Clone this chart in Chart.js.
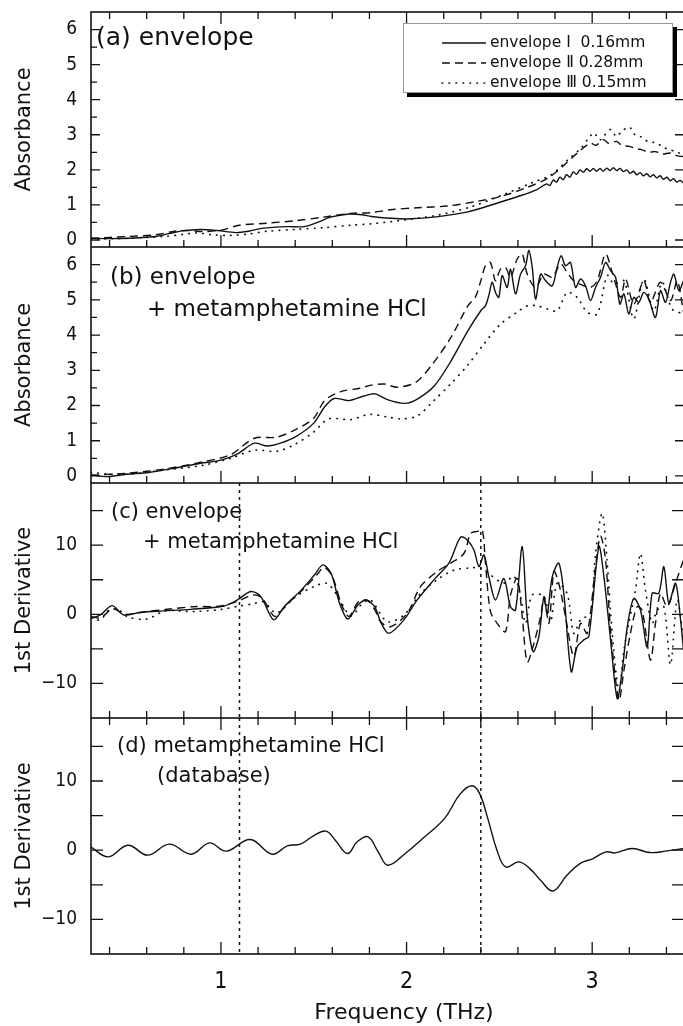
<!DOCTYPE html>
<html>
<head>
<meta charset="utf-8">
<script src="https://cdn.jsdelivr.net/npm/chart.js@4.4.1/dist/chart.umd.min.js"></script>
<style>
  html, body { margin: 0; padding: 0; background: #fff; overflow: hidden; }
  #wrap { position: relative; width: 683px; height: 1026px; overflow: hidden; }
  canvas { position: absolute; left: 0; }
</style>
</head>
<body>
<div id="wrap">
  <canvas id="panelA" width="686" height="247" style="top:0px"></canvas>
  <canvas id="panelB" width="686" height="236" style="top:247px"></canvas>
  <canvas id="panelC" width="686" height="235" style="top:483px"></canvas>
  <canvas id="panelD" width="686" height="308" style="top:718px"></canvas>
</div>
<script>
// shared frequency axis (THz)
const xMajorTicks = [1, 2, 3];
const xTickLabels = ['1', '2', '3'];
const xMinorTicks = [0.4, 0.6, 0.8, 1.2, 1.4, 1.6, 1.8, 2.2, 2.4, 2.6, 2.8, 3.2, 3.4];

const absTicks = [0, 1, 2, 3, 4, 5, 6];
const absMinorTicks = [0.5, 1.5, 2.5, 3.5, 4.5, 5.5];
const derTicks = [-10, 0, 10];
const derMinorTicks = [-5, 5, 15];

const markerFreqs = [1.1, 2.4];
const legendLabels = ['envelope \u2160  0.16mm', 'envelope \u2161 0.28mm', 'envelope \u2162 0.15mm'];

// (a) envelope, absorbance
const freqA1 = [0.30,0.40,0.51,0.60,0.65,0.72,0.79,0.89,0.98,1.08,1.15,1.22,1.36,1.45,1.52,1.59,1.69,1.76,1.81,1.91,2.00,2.16,2.33,2.47,2.60,2.70,
  2.754,2.772,2.790,2.808,2.826,2.844,2.862,2.880,2.898,2.916,2.934,2.952,2.970,2.988,3.006,3.024,3.042,3.060,3.078,3.096,3.114,3.132,3.150,3.168,3.186,3.204,3.222,3.240,3.258,3.276,3.294,3.312,3.330,3.348,3.366,3.384,3.402,3.420,3.438,3.456,3.474,3.492];
const absA1 = [0.05,0.04,0.05,0.08,0.10,0.18,0.26,0.30,0.27,0.21,0.25,0.33,0.38,0.38,0.50,0.65,0.74,0.72,0.67,0.62,0.60,0.66,0.80,1.02,1.24,1.43,
  1.60,1.55,1.71,1.65,1.79,1.72,1.86,1.79,1.94,1.87,2.00,1.93,2.03,1.96,2.04,1.96,2.04,1.96,2.05,1.98,2.06,1.98,2.04,1.95,2.00,1.90,1.96,1.86,1.92,1.83,1.89,1.80,1.86,1.77,1.83,1.73,1.79,1.69,1.75,1.65,1.70,1.62];
const freqA2 = [0.30,0.50,0.65,0.75,0.82,0.90,1.00,1.10,1.25,1.40,1.55,1.70,1.81,1.91,2.06,2.22,2.38,2.52,2.65,2.76,2.85,2.92,2.99,3.02,3.06,3.09,3.13,3.16,3.20,3.24,3.27,3.30,3.34,3.38,3.42,3.46,3.49];
const absA2 = [0.05,0.10,0.15,0.25,0.27,0.24,0.28,0.42,0.48,0.55,0.65,0.76,0.78,0.86,0.92,0.97,1.10,1.26,1.50,1.76,2.14,2.48,2.76,2.70,2.86,2.75,2.81,2.70,2.67,2.60,2.57,2.50,2.52,2.45,2.48,2.40,2.38];
const freqA3 = [0.30,0.50,0.70,0.80,0.87,0.95,1.05,1.15,1.25,1.40,1.55,1.70,1.81,1.99,2.17,2.35,2.52,2.67,2.78,2.87,2.94,2.98,3.01,3.04,3.06,3.10,3.13,3.16,3.20,3.23,3.26,3.28,3.31,3.35,3.38,3.42,3.46,3.49];
const absA3 = [0.02,0.05,0.10,0.16,0.20,0.15,0.13,0.17,0.25,0.30,0.35,0.42,0.46,0.57,0.71,0.95,1.29,1.62,1.86,2.29,2.62,2.90,3.05,2.85,2.95,3.15,2.95,3.10,3.22,3.00,2.95,2.86,2.80,2.76,2.65,2.57,2.50,2.43];

// (b) envelope + metamphetamine HCl, absorbance
const freqB1 = [0.30,0.39,0.49,0.61,0.75,0.89,1.00,1.09,1.18,1.25,1.32,1.41,1.50,1.56,1.61,1.69,1.77,1.83,1.90,1.99,2.06,2.15,2.24,2.33,2.40,2.425,2.443,2.461,2.479,2.497,
  2.515,2.542,2.56,2.587,2.614,2.641,2.659,2.677,2.695,2.722,2.749,2.785,2.811,2.833,2.856,2.883,2.91,2.937,2.964,2.991,3.018,3.045,3.072,3.099,3.126,3.149,3.171,3.197,3.224,3.251,
  3.278,3.305,3.341,3.368,3.395,3.422,3.44,3.467,3.492];
const absB1 = [0.03,-0.02,0.05,0.10,0.22,0.36,0.45,0.63,0.93,0.85,0.93,1.14,1.50,1.97,2.20,2.14,2.27,2.33,2.16,2.06,2.19,2.56,3.27,4.12,4.69,4.83,5.12,5.50,5.21,5.07,
  5.69,5.35,5.87,5.17,5.73,5.97,6.40,5.92,5.02,5.73,5.54,5.40,5.92,6.25,5.97,6.06,5.35,5.59,5.40,4.98,5.35,5.64,6.06,5.83,5.64,4.88,5.17,4.60,5.07,4.93,
  5.21,5.02,4.50,5.26,4.93,5.50,5.73,5.26,5.54];
const freqB2 = [0.30,0.50,0.70,0.90,1.05,1.18,1.30,1.40,1.50,1.56,1.65,1.75,1.81,1.88,1.95,2.05,2.14,2.24,2.33,2.37,2.40,2.425,2.452,2.479,2.506,2.533,2.56,2.596,2.623,2.65,
  2.695,2.74,2.785,2.83,2.865,2.901,2.955,2.991,3.027,3.072,3.108,3.153,3.18,3.224,3.278,3.314,3.368,3.422,3.458,3.492];
const absB2 = [0.02,0.08,0.20,0.40,0.60,1.07,1.10,1.31,1.64,2.15,2.40,2.49,2.58,2.61,2.52,2.66,3.18,3.94,4.83,5.07,5.54,5.97,6.06,5.54,5.87,5.92,5.64,6.16,6.30,5.73,
  5.35,5.73,5.64,6.02,5.78,5.54,5.40,5.35,5.54,6.30,5.78,5.07,5.59,4.88,5.54,4.93,5.50,4.98,5.54,4.65];
const freqB3 = [0.30,0.40,0.50,0.70,0.90,1.05,1.18,1.30,1.40,1.50,1.58,1.70,1.80,1.90,1.98,2.06,2.147,2.237,2.327,2.417,2.506,2.596,2.65,2.704,2.758,2.811,2.865,2.919,2.973,3.027,
  3.081,3.117,3.171,3.224,3.278,3.332,3.377,3.431,3.492];
const absB3 = [0.10,0.05,0.05,0.17,0.30,0.50,0.73,0.70,0.90,1.25,1.62,1.60,1.75,1.67,1.62,1.71,2.14,2.61,3.13,3.75,4.31,4.65,4.83,4.83,4.74,4.69,5.21,5.07,4.65,4.60,
  5.69,5.45,5.54,4.46,5.59,4.69,5.50,4.74,4.60];

// (c) envelope + metamphetamine HCl, 1st derivative
const freqC1 = [0.30,0.35,0.414,0.477,0.567,0.693,0.837,1.017,1.089,1.161,1.215,1.284,1.341,1.432,1.504,1.549,1.594,1.639,1.684,1.738,1.783,1.828,1.864,1.905,1.986,2.057,2.147,2.228,2.291,2.327,
  2.363,2.39,2.417,2.443,2.479,2.524,2.56,2.587,2.623,2.65,2.682,2.713,2.74,2.758,2.785,2.82,2.847,2.887,2.919,2.955,2.982,3.036,3.063,3.099,3.135,3.162,3.189,3.224,3.26,3.296,
  3.323,3.359,3.386,3.413,3.449,3.476,3.492];
const derC1 = [-0.6,-0.1,1.26,-0.1,0.3,0.5,0.72,1.2,2.1,3.3,2.56,-0.8,1.1,3.5,5.7,7.15,5.9,1.6,-0.68,1.35,2.08,1.1,-1.3,-2.75,-0.8,2.08,4.98,7.4,11.16,10.77,
  9.3,6.9,8.6,5.46,2.08,5.2,1.1,0.6,9.8,-0.34,-5.4,-3.2,2.56,0.14,5.46,7.4,3.04,-8.3,-4.7,-3.7,-3.2,9.8,5.46,-3.7,-12.2,-8.1,-1.8,2.3,0.63,-4.7,
  3.04,3.04,6.9,1.6,4.5,-0.8,-5.2];
const freqC2 = [0.30,0.35,0.42,0.48,0.60,0.70,0.85,1.00,1.10,1.17,1.22,1.29,1.35,1.45,1.52,1.555,1.60,1.65,1.69,1.74,1.79,1.83,1.86,1.914,2.004,2.075,2.165,2.237,2.309,2.345,
  2.381,2.408,2.425,2.452,2.488,2.533,2.56,2.596,2.623,2.65,2.686,2.722,2.74,2.767,2.794,2.82,2.856,2.901,2.937,2.973,3.018,3.045,3.072,3.099,3.144,3.171,3.206,3.242,3.269,3.314,
  3.341,3.368,3.404,3.449,3.492];
const derC2 = [-0.3,-0.5,0.8,0.0,0.4,0.7,1.1,1.2,2.0,2.8,2.4,-0.3,1.3,3.8,5.8,6.8,5.5,1.4,-0.3,1.8,2.0,0.6,-1.06,-1.8,0.15,4.0,6.2,7.4,8.8,11.7,
  12.0,12.2,7.4,0.4,-1.3,-2.5,2.8,5.2,-0.3,-6.9,-4.2,-0.3,2.3,-1.3,6.2,4.5,-0.3,-6.1,-1.3,-2.75,6.9,11.3,7.9,-2.3,-12.4,-8.1,-2.75,1.1,0.6,-6.6,
  -1.3,3.0,1.1,4.5,7.9];
const freqC3 = [0.30,0.35,0.40,0.45,0.50,0.60,0.70,0.85,1.00,1.10,1.17,1.23,1.30,1.40,1.50,1.57,1.62,1.70,1.76,1.806,1.896,1.986,2.075,2.165,2.255,2.345,2.399,2.452,2.524,2.578,
  2.614,2.641,2.677,2.74,2.776,2.811,2.865,2.901,2.937,2.991,3.018,3.054,3.081,3.108,3.144,3.171,3.197,3.233,3.26,3.287,3.323,3.35,3.386,3.422,3.458,3.492];
const derC3 = [-0.6,-0.8,0.7,0.6,-0.4,-0.7,0.5,0.4,0.7,1.2,1.5,1.8,0.2,2.5,4.0,4.5,3.0,-0.2,1.5,2.1,-1.06,-0.1,3.0,5.0,6.4,6.7,6.7,5.7,4.5,5.5,
  2.6,-1.3,2.8,2.6,-1.06,4.5,3.0,-2.75,-0.8,0.15,8.8,14.6,7.4,-2.75,-11.0,-5.2,-1.3,3.5,8.8,3.5,-1.3,0.6,1.1,-7.3,2.1,-3.7];

// (d) metamphetamine HCl (database), 1st derivative
const freqD = [0.299,0.393,0.499,0.605,0.722,0.84,0.939,1.028,1.158,1.275,1.358,1.428,1.499,1.565,1.616,1.682,1.734,1.793,1.847,1.899,
  1.993,2.087,2.205,2.287,2.351,2.393,2.44,2.487,2.534,2.605,2.664,2.722,2.788,2.864,2.934,3.005,3.075,3.122,3.216,3.311,3.405,3.494];
const derD = [0.48,-0.97,0.72,-0.72,0.87,-0.58,1.06,-0.14,1.55,-0.58,0.63,0.87,2.08,2.75,1.45,-0.48,1.21,1.93,-0.24,-2.17,
  -0.48,1.69,4.59,8.07,9.32,8.21,4.35,0,-2.42,-1.69,-2.66,-4.35,-5.89,-3.62,-1.93,-1.21,-0.24,-0.39,0.24,-0.34,-0.10,0.24];

const INK = '#111';
const TEXT_FONT = '"DejaVu Sans", sans-serif';
const NUM_FONT = '"Liberation Sans Narrow", "DejaVu Sans Condensed", sans-serif';

const SOLID = { width: 1.4, dash: [], cap: 'butt' };
const DASHED = { width: 1.4, dash: [8, 5], cap: 'butt' };
const DOTTED = { width: 1.7, dash: [0.5, 6.5], cap: 'round' };

// frame, inward ticks and the dotted marker lines
const panelFrame = {
  id: 'panelFrame',
  afterDatasetsDraw(chart, args, o) {
    const { ctx, chartArea: a } = chart;
    const x = chart.scales.x;
    const y = chart.scales.y;
    ctx.save();
    ctx.strokeStyle = INK;
    ctx.lineWidth = 1.3;
    ctx.beginPath();
    const xt = xMajorTicks.map(v => [v, 12]).concat(xMinorTicks.map(v => [v, 7]));
    xt.forEach(([v, len]) => {
      const px = x.getPixelForValue(v);
      ctx.moveTo(px, a.bottom);
      ctx.lineTo(px, a.bottom - len);
      if (o.topTicks) {
        ctx.moveTo(px, a.top);
        ctx.lineTo(px, a.top + len);
      }
    });
    o.yMajor.forEach(v => {
      const py = y.getPixelForValue(v);
      ctx.moveTo(a.left, py);
      ctx.lineTo(a.left + o.majorLen, py);
      ctx.moveTo(a.right, py);
      ctx.lineTo(a.right - o.majorLen - 1, py);
    });
    o.yMinor.forEach(v => {
      const py = y.getPixelForValue(v);
      ctx.moveTo(a.left, py);
      ctx.lineTo(a.left + o.minorLen, py);
      if (o.minorRight) {
        ctx.moveTo(a.right, py);
        ctx.lineTo(a.right - o.minorLen - 1, py);
      }
    });
    ctx.stroke();

    if (o.markers) {
      ctx.lineWidth = 1.5;
      ctx.setLineDash([3, 4]);
      ctx.beginPath();
      markerFreqs.forEach(f => {
        const px = x.getPixelForValue(f);
        ctx.moveTo(px, a.top);
        ctx.lineTo(px, a.bottom);
      });
      ctx.stroke();
      ctx.setLineDash([]);
    }

    ctx.lineWidth = 1.6;
    ctx.strokeRect(a.left, a.top, a.right - a.left, a.bottom - a.top);
    ctx.restore();
  }
};

// panel captions, axis titles
const panelNotes = {
  id: 'panelNotes',
  afterDraw(chart, args, o) {
    const { ctx, chartArea: a } = chart;
    ctx.save();
    ctx.fillStyle = INK;
    ctx.textBaseline = 'middle';
    (o.items || []).forEach(n => {
      ctx.font = n.size + 'px ' + TEXT_FONT;
      ctx.textAlign = n.align || 'left';
      ctx.fillText(n.text, n.x, n.y);
    });
    if (o.yTitle) {
      ctx.translate(25, (a.top + a.bottom) / 2);
      ctx.rotate(-Math.PI / 2);
      ctx.textAlign = 'center';
      ctx.font = '21px ' + TEXT_FONT;
      ctx.fillText(o.yTitle, 0, 0);
    }
    ctx.restore();
  }
};

// boxed legend with shadow, panel (a) only
const boxLegend = {
  id: 'boxLegend',
  afterDraw(chart) {
    const ctx = chart.ctx;
    const styles = [SOLID, DASHED, DOTTED];
    ctx.save();
    ctx.fillStyle = '#000';
    ctx.fillRect(407, 27, 270, 70);
    ctx.fillStyle = '#fff';
    ctx.fillRect(403, 23, 270, 70);
    ctx.strokeStyle = '#999';
    ctx.lineWidth = 1;
    ctx.strokeRect(403.5, 23.5, 269, 69);
    legendLabels.forEach((label, i) => {
      const yy = 43 + i * 20;
      const st = styles[i];
      ctx.strokeStyle = INK;
      ctx.lineWidth = st.width;
      ctx.lineCap = st.cap;
      ctx.setLineDash(st.dash);
      ctx.beginPath();
      ctx.moveTo(442, yy);
      ctx.lineTo(486, yy);
      ctx.stroke();
      ctx.setLineDash([]);
      ctx.fillStyle = INK;
      ctx.font = '15.5px ' + TEXT_FONT;
      ctx.textBaseline = 'middle';
      ctx.fillText(label, 490, yy);
    });
    ctx.restore();
  }
};

function derLabel(v) {
  return v < 0 ? '\u2212' + Math.abs(v) : String(v);
}

// no extra room for half tick labels at the ends of an axis
function noEdgePadding(s) {
  s.paddingTop = 0;
  s.paddingBottom = 0;
  s.paddingLeft = 0;
  s.paddingRight = 0;
}

function buildPanel(id, series, cfg) {
  const ctx = document.getElementById(id).getContext('2d');
  const plugins = [panelFrame, panelNotes];
  if (cfg.legend) plugins.push(boxLegend);
  return new Chart(ctx, {
    type: 'line',
    data: {
      datasets: series.map(s => ({
        data: s.freq.map((f, i) => ({ x: f, y: s.vals[i] })),
        borderColor: INK,
        borderWidth: s.style.width,
        borderDash: s.style.dash,
        borderCapStyle: s.style.cap,
        pointRadius: 0,
        tension: cfg.tension,
        fill: false
      }))
    },
    options: {
      responsive: false,
      animation: false,
      devicePixelRatio: 1,
      layout: { padding: { top: cfg.padTop, right: 1, left: 0, bottom: 0 } },
      plugins: {
        legend: { display: false },
        tooltip: { enabled: false },
        panelFrame: {
          topTicks: cfg.topTicks, markers: cfg.markers,
          yMajor: cfg.yTicks, yMinor: cfg.yMinor, minorRight: cfg.minorRight,
          majorLen: cfg.majorLen, minorLen: cfg.minorLen
        },
        panelNotes: { items: cfg.notes, yTitle: cfg.yTitle }
      },
      scales: {
        x: {
          type: 'linear', min: 0.3, max: 3.5,
          display: cfg.showX,
          grid: { display: false, drawTicks: false },
          border: { display: false },
          afterBuildTicks: s => { s.ticks = xMajorTicks.map(v => ({ value: v })); },
          afterFit: s => { s.height = cfg.xHeight || 0; noEdgePadding(s); },
          ticks: {
            autoSkip: false, maxRotation: 0, padding: 14, color: INK,
            font: { family: NUM_FONT, size: 23 },
            callback: v => xTickLabels[xMajorTicks.indexOf(v)]
          }
        },
        y: {
          type: 'linear', min: cfg.yMin, max: cfg.yMax,
          grid: { display: false, drawTicks: false },
          border: { display: false },
          afterBuildTicks: s => { s.ticks = cfg.yTicks.map(v => ({ value: v })); },
          afterFit: s => { s.width = 91; noEdgePadding(s); },
          ticks: {
            autoSkip: false, padding: 14, color: INK,
            font: { family: NUM_FONT, size: 19 },
            callback: cfg.fmt
          }
        }
      }
    },
    plugins: plugins
  });
}

const absCfg = { yMin: -0.2, yMax: 6.5, yTicks: absTicks, yMinor: absMinorTicks, minorRight: false,
  majorLen: 9, minorLen: 6, fmt: v => String(v), yTitle: 'Absorbance', tension: 0.3 };
const derCfg = { yMin: -15, yMax: 19, yTicks: derTicks, yMinor: derMinorTicks, minorRight: true,
  majorLen: 12, minorLen: 12, fmt: derLabel, yTitle: '1st Derivative', tension: 0.3, markers: true };

buildPanel('panelA', [
  { freq: freqA1, vals: absA1, style: SOLID },
  { freq: freqA2, vals: absA2, style: DASHED },
  { freq: freqA3, vals: absA3, style: DOTTED }
], Object.assign({}, absCfg, {
  padTop: 12, topTicks: true, showX: false, legend: true,
  notes: [{ text: '(a) envelope', x: 96, y: 38, size: 25 }]
}));

buildPanel('panelB', [
  { freq: freqB1, vals: absB1, style: SOLID },
  { freq: freqB2, vals: absB2, style: DASHED },
  { freq: freqB3, vals: absB3, style: DOTTED }
], Object.assign({}, absCfg, {
  padTop: 0, topTicks: false, showX: false,
  notes: [
    { text: '(b) envelope', x: 110, y: 31, size: 23 },
    { text: '+ metamphetamine HCl', x: 147, y: 63, size: 23 }
  ]
}));

buildPanel('panelC', [
  { freq: freqC1, vals: derC1, style: SOLID },
  { freq: freqC2, vals: derC2, style: DASHED },
  { freq: freqC3, vals: derC3, style: DOTTED }
], Object.assign({}, derCfg, {
  padTop: 0, topTicks: false, showX: false,
  notes: [
    { text: '(c) envelope', x: 111, y: 30, size: 21 },
    { text: '+ metamphetamine HCl', x: 143, y: 60, size: 21 }
  ]
}));

buildPanel('panelD', [
  { freq: freqD, vals: derD, style: SOLID }
], Object.assign({}, derCfg, {
  yMax: 19.1, padTop: 0, topTicks: true, showX: true, xHeight: 72, tension: 0.4,
  notes: [
    { text: '(d) metamphetamine HCl', x: 117, y: 29, size: 21 },
    { text: '(database)', x: 157, y: 59, size: 21 },
    { text: 'Frequency (THz)', x: 404, y: 295, size: 22, align: 'center' }
  ]
}));
</script>
</body>
</html>
